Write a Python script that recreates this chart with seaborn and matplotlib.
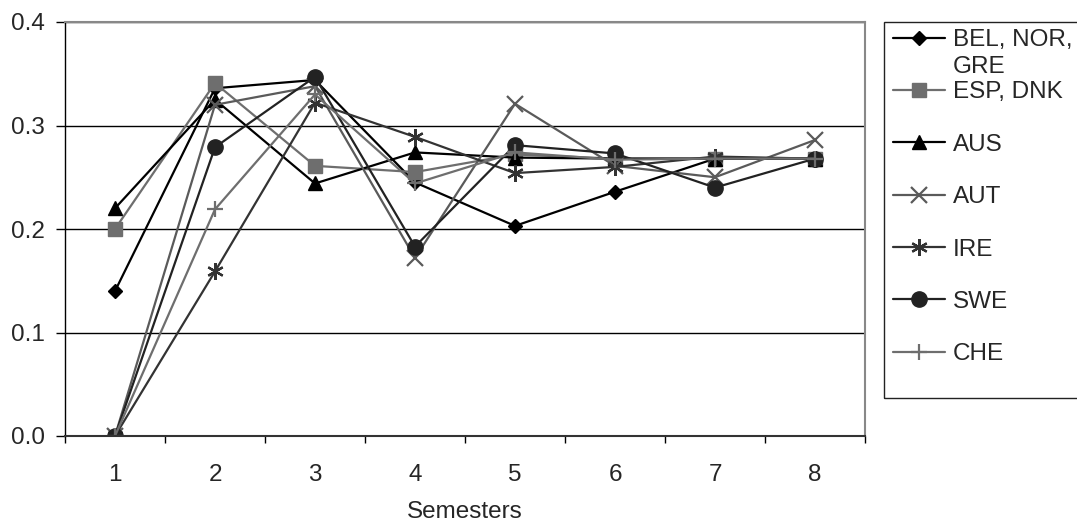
import numpy as np
import pandas as pd
import matplotlib
matplotlib.use("Agg")
import matplotlib.pyplot as plt
from matplotlib.patches import Rectangle
import seaborn as sns

# data
semesters = [1, 2, 3, 4, 5, 6, 7, 8]
series_names = ["BEL, NOR,", "ESP, DNK", "AUS", "AUT", "IRE", "SWE", "CHE"]
bel = [0.140, 0.336, 0.344, 0.245, 0.203, 0.236, 0.268, 0.268]
esp = [0.200, 0.341, 0.261, 0.255, 0.272, 0.268, 0.268, 0.268]
aus = [0.220, 0.325, 0.244, 0.274, 0.269, 0.268, 0.268, 0.268]
aut = [0.000, 0.320, 0.338, 0.172, 0.321, 0.261, 0.250, 0.286]
ire = [0.000, 0.159, 0.322, 0.289, 0.254, 0.260, 0.270, 0.268]
swe = [0.000, 0.279, 0.347, 0.183, 0.281, 0.273, 0.240, 0.268]
che = [0.000, 0.219, 0.330, 0.244, 0.274, 0.267, 0.268, 0.268]
values = [bel, esp, aus, aut, ire, swe, che]

# look of each series (excel grayscale style)
styles = [
    dict(color="#000000", marker="D", markersize=7.5, mew=1.0),
    dict(color="#6e6e6e", marker="s", markersize=10, mew=1.0),
    dict(color="#000000", marker="^", markersize=10, mew=1.0),
    dict(color="#5a5a5a", marker="x", markersize=11, mew=1.6),
    dict(color="#333333", marker=(6, 2, 0), markersize=12, mew=1.6),
    dict(color="#222222", marker="o", markersize=11, mew=1.0),
    dict(color="#6e6e6e", marker="+", markersize=12, mew=1.6),
]

FS = 17.5

sns.set_style("white")
plt.rcParams["font.family"] = ["Liberation Sans", "DejaVu Sans"]

W, H = 1077, 529
fig = plt.figure(figsize=(W / 100, H / 100), dpi=100)
ax = fig.add_axes([65 / W, 1 - 436 / H, 800 / W, 414 / H])

for name, vals, st in zip(series_names, values, styles):
    df = pd.DataFrame({"Semester": semesters, "value": vals})
    sns.lineplot(data=df, x="Semester", y="value", ax=ax,
                 color=st["color"], linewidth=1.6,
                 marker=st["marker"], markersize=st["markersize"],
                 markeredgewidth=st["mew"], markeredgecolor=st["color"],
                 markerfacecolor=st["color"], label=name, legend=False)

ax.set_xlim(0.5, 8.5)
ax.set_ylim(0, 0.4)
ax.set_yticks([0.0, 0.1, 0.2, 0.3, 0.4])
ax.set_yticklabels([f"{v:.1f}" for v in [0.0, 0.1, 0.2, 0.3, 0.4]])
ax.set_xticks(semesters)
ax.set_xticks(np.arange(0.5, 9, 1), minor=True)
ax.tick_params(axis="x", which="major", length=0, pad=20, labelsize=FS)
ax.tick_params(axis="x", which="minor", length=5, width=1, direction="out",
               color="black", bottom=True)
ax.tick_params(axis="y", length=6.5, width=1, direction="out", pad=8,
               labelsize=FS, color="black", left=True)

ax.yaxis.grid(True, color="black", linewidth=1)
ax.xaxis.grid(False)
ax.set_axisbelow(True)

ax.spines["left"].set_color("black")
ax.spines["left"].set_linewidth(1.0)
ax.spines["bottom"].set_color("#333333")
ax.spines["bottom"].set_linewidth(1.5)
for s in ["top", "right"]:
    ax.spines[s].set_color("#888888")
    ax.spines[s].set_linewidth(1.5)

ax.set_xlabel("Semesters", fontsize=FS, labelpad=11)
ax.set_ylabel("")

# legend box drawn by hand so it can run off the right edge like the original
fig.add_artist(Rectangle((884 / W, 1 - 398 / H), 0.25, 376 / H,
                         transform=fig.transFigure, fill=False,
                         edgecolor="#222222", linewidth=1.0))
leg = ax.legend(handles=ax.lines, labels=series_names, frameon=False,
                loc="upper left", bbox_to_anchor=(893 / W, 1 - 29 / H),
                bbox_transform=fig.transFigure, borderpad=0, borderaxespad=0,
                handlelength=2.15, handletextpad=0.3, labelspacing=1.25,
                fontsize=FS)

# second line of the first legend label
fig.canvas.draw()
t0 = leg.get_texts()[0]
bx, by = t0.get_transform().transform(t0.get_position())
fig.text(bx / W, (by - 27) / H, "GRE", fontsize=FS, ha="left", va="baseline")

fig.savefig("out.png", dpi=100)
